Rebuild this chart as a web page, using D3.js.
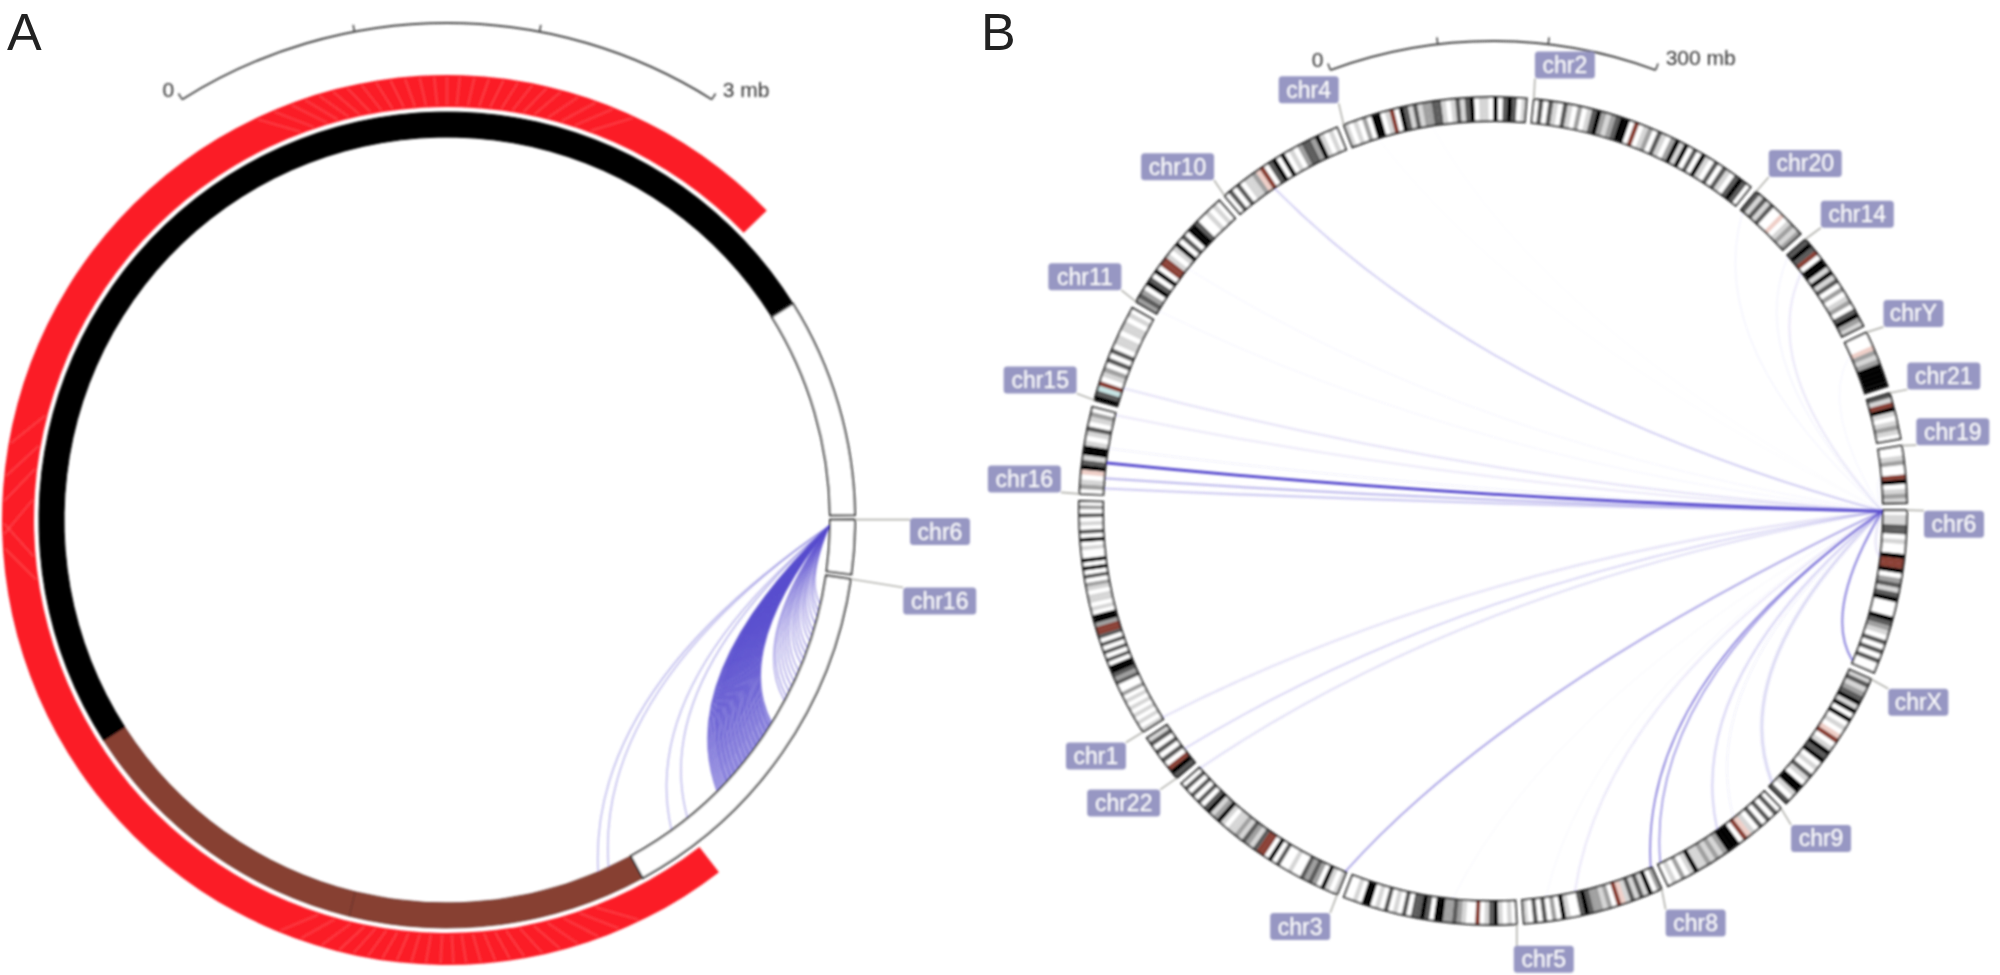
<!DOCTYPE html>
<html><head><meta charset="utf-8">
<script src="https://cdn.jsdelivr.net/npm/d3@7"></script>
<style>html,body{margin:0;padding:0;background:#fff}svg{display:block}text{font-family:"Liberation Sans",Arial,sans-serif}</style>
</head><body><svg id="c" width="2000" height="975"></svg>
<script>
// ---------- Panel A values (Mb, circular coordinate clockwise from 12 o'clock) ----------
const circleMbA = 16.77;
const scaleTicksA = [-1.5, -0.5, 0.5, 1.5];
const scaleLabelsA = ["0", "3 mb"];
const coverageA = [6.63, 18.91];
const coverageStreaksA = [15.70,15.80,15.90,15.98,16.06,16.14,16.22,16.30,16.38,16.46,16.54,16.62,16.70,16.77,16.84,16.92,17.00,17.08,17.16,17.24,17.32,17.40,17.50,17.60,17.70,17.82,
  7.30,7.42,7.54,7.66,7.76,7.86,7.96,8.04,8.12,8.20,8.28,8.35,8.42,8.50,8.58,8.66,8.74,8.82,8.90,8.98,9.08,9.20,9.32,12.3,12.45,12.6,12.8,12.95,13.15];
const segmentsA = [
  {start:11.05,end:19.47,kind:"black"},
  {start:9.03,end:11.05,kind:"brown"},
  {start:7.05,end:9.03,kind:"brown"},
  {start:2.70,end:4.16,kind:"white"},
  {start:4.19,end:4.55,kind:"white"},
  {start:4.58,end:7.05,kind:"white"}];
const linkSourceA = 4.235;
const linksDenseA = [5.68,5.695,5.71,5.72,5.735,5.75,5.76,5.775,5.79,5.80,5.815,5.83,5.84,5.855,5.87,5.88,5.895,5.91,5.92,5.935,5.95,5.96,5.975,5.99,6.00,6.015,6.03,6.04,6.055,6.07,6.08,6.095,6.11,6.12,6.135,6.15,6.16,6.175,6.19,6.20,6.215,6.23,6.245,6.26,6.275,6.29];
const linksLightA = [4.78,4.83,4.87,4.92,4.97,5.01,5.05,5.10,5.14,5.18,5.22,5.27,5.31,5.35,5.39,5.43,5.47,5.50];
const linksFarA = [6.57,6.71,7.22,7.30];
const labelsA = [{name:"chr6",pos:4.19,dx:85,dy:12},{name:"chr16",pos:4.58,dx:89,dy:22}];

// ---------- Panel B values ----------
const circleMbB = 2667;
const startMbB = 42;
const gapMbB = 7.3;
const scaleTicksB = [-150,-50,50,150];
const scaleLabelsB = ["0","300 mb"];
const chromNames = ["chr2","chr20","chr14","chrY","chr21","chr19","chr6","chrX","chr9","chr8","chr5","chr3","chr22","chr1","chr16","chr15","chr11","chr10","chr4"];
const chromLengths = [243.2,63.0,107.3,59.4,48.1,59.1,171.1,155.3,141.2,146.4,180.9,198.0,51.3,249.3,90.4,102.5,135.0,135.5,191.2];
// band stains along each chromosome, clockwise: 0 white, 1-4 increasing grey to black, r brown, p pale pink, c pale cyan
const chromBands = [
 "030310310201342123440r01203102414030410303103430",
 "3131300p01212",
 "343r04414130201203421",
 "000p21244444",
 "31r4101210",
 "001200r40121",
 "0113301004rr4023134000432103030300",
 "1312341404010pr0143401031044103",
 "03030301pr044421212114102010",
 "20413131pr02122343001402030301",
 "01014310r00123224403433030103010440100",
 "101402323001003040rr3123121101421430303030",
 "34r0303031",
 "10101010102003234403030303rr2440101101203040400104030103020",
 "0210p4314410130120",
 "43cr0120303011011010",
 "232043040rr1014030443001010",
 "03030112pr03404010233241010",
 "1010204401r0431312233101313401104034301"];
const linkSourceB = {chr:"chr6",pos:1};
const linkChrB = ["chr16","chr16","chr16","chr16","chr16","chr15","chr11","chr11","chr10","chr4","chr4","chr20","chr14","chr14","chrY","chr19","chr6","chr6","chrX","chr9","chr9","chr8","chr9","chr8","chr8","chr3","chr5","chr1","chr22","chr3"];
const linkPosB = [35,18,7,51,88,21,4,60,47,30,90,3,2,25,15,30,50,168,150,66,44,1,138,88,120,1,68,2,19,197];
const linkAlphaB = [1,.38,.3,.07,.16,.18,.05,.05,.3,.025,.025,.07,.07,.16,.05,.06,.16,.65,.22,.26,.07,.7,.55,.16,.04,.5,.04,.18,.24,.2];
const linkWidthB = [3,2.2,2.2,1.5,1.5,1.8,1,1,1.8,1,1,1,1,1.6,1,1,2,2.2,3,2,1.5,1.8,1.8,1.6,1,1.9,1,2,1.8,1.8];
const labelOffsetB = {chr2:[31,-34],chr20:[49,-28],chr14:[52,-25],chrY:[47,-19],chr21:[54,-17],chr19:[51,-14],chr6:[47,14],chrX:[47,23],chr9:[40,30],chr8:[34,34],chr5:[27,35],chr3:[-37,32],chr22:[-53,25],chr1:[-47,24],chr16:[-55,-15],chr15:[-54,-20],chr11:[-51,-25],chr10:[-47,-29],chr4:[-35,-35]};

// ---------- Drawing ----------
const svg = d3.select("#c");
const defs = svg.append("defs");
defs.append("filter").attr("id","soft").attr("x","-5%").attr("y","-5%").attr("width","110%").attr("height","110%")
  .append("feGaussianBlur").attr("stdDeviation",0.8);
const root = svg.append("g").attr("filter","url(#soft)");
const LINK = "#5b50cf", BOX = "#9797c3", AXIS = "#444";

const spanToRadius = d3.scaleLinear().domain([0,13,24,44,66,112,124,148,161,180]).range([1,.95,.875,.72,.58,.46,.28,.13,.09,0]);
function linkPath(a0,a1,R){
  let d = a1-a0; d = Math.atan2(Math.sin(d),Math.cos(d));
  const span = Math.abs(d)*180/Math.PI;
  const c = d3.pointRadial(a0+.75*d, R*spanToRadius(span));
  const p0 = d3.pointRadial(a0,R), p1 = d3.pointRadial(a1,R);
  const path = d3.path(); path.moveTo(p0[0],p0[1]); path.quadraticCurveTo(c[0],c[1],p1[0],p1[1]);
  return path.toString();
}
function drawScale(g,scale,ticks,labels,r,lab0,lab1){
  const ar = d3.arc().innerRadius(r).outerRadius(r).startAngle(scale(ticks[0])).endAngle(scale(ticks[ticks.length-1]));
  g.append("path").attr("d",ar()).attr("fill","none").attr("stroke",AXIS).attr("stroke-width",1.9);
  g.selectAll(null).data(ticks).join("path").attr("d",t=>{
    const a=d3.pointRadial(scale(t),r), b=d3.pointRadial(scale(t),r+7);
    return "M"+a+"L"+b;}).attr("stroke",AXIS).attr("stroke-width",1.6);
  const p0=d3.pointRadial(scale(ticks[0]),r), p1=d3.pointRadial(scale(ticks[ticks.length-1]),r);
  g.append("text").text(labels[0]).attr("x",p0[0]+lab0[0]).attr("y",p0[1]+lab0[1]).attr("text-anchor","end").attr("font-size",21).attr("fill","#333");
  g.append("text").text(labels[1]).attr("x",p1[0]+lab1[0]).attr("y",p1[1]+lab1[1]).attr("font-size",21).attr("fill","#333");
}
function drawLabel(gLead,gBox,anchor,text,dx,dy,fs){
  const w = text.length>=5?73:60, h=27;
  const cx=anchor[0]+dx, cy=anchor[1]+dy;
  const nx=Math.max(cx-w/2,Math.min(cx+w/2,anchor[0])), ny=Math.max(cy-h/2,Math.min(cy+h/2,anchor[1]));
  gLead.append("line").attr("x1",anchor[0]).attr("y1",anchor[1]).attr("x2",nx).attr("y2",ny).attr("stroke","#b5b5b0").attr("stroke-width",1.7);
  gBox.append("rect").attr("x",cx-w/2).attr("y",cy-h/2).attr("width",w).attr("height",h).attr("rx",3.5).attr("fill",BOX);
  gBox.append("text").text(text).attr("x",cx).attr("y",cy+8).attr("text-anchor","middle").attr("font-size",fs).attr("fill","#fff");
}

// Panel A
const A = root.append("g").attr("transform","translate(447,520)");
const angA = d3.scaleLinear().domain([0,circleMbA]).range([0,2*Math.PI]);
const barA = d3.scaleLinear().domain([-1.5,1.5]).range([angA(-1.5),angA(1.5)]);
drawScale(A,barA,scaleTicksA,scaleLabelsA,497,[-8,-2],[11,-2]);
const arcA = d3.arc();
A.append("path").attr("d",arcA({innerRadius:413,outerRadius:445,startAngle:angA(coverageA[0]),endAngle:angA(coverageA[1])})).attr("fill","#fb1d26");
A.selectAll(null).data(coverageStreaksA).join("line").each(function(m){
  const a=angA(m);
  const off=Math.atan2(Math.sin(a),Math.cos(a));
  const off2=Math.atan2(Math.sin(a-Math.PI),Math.cos(a-Math.PI));
  const near=Math.abs(off)<Math.abs(off2)?off:off2;
  const tilt=Math.max(-.04,Math.min(.04,near*0.1));
  const p=d3.pointRadial(a-tilt,415), q=d3.pointRadial(a+tilt,443);
  d3.select(this).attr("x1",p[0]).attr("y1",p[1]).attr("x2",q[0]).attr("y2",q[1]);
}).attr("stroke","#ff5a5f").attr("stroke-width",2.4).attr("opacity",.45);
const segStyle={black:["#000","#000",1],brown:["#873f33","#5e2c24",.8],white:["#fff","#333",2]};
A.selectAll(null).data(segmentsA).join("path")
  .attr("d",d=>arcA({innerRadius:383,outerRadius:408,startAngle:angA(d.start),endAngle:angA(d.end)}))
  .attr("fill",d=>segStyle[d.kind][0]).attr("stroke",d=>segStyle[d.kind][1]).attr("stroke-width",d=>segStyle[d.kind][2]);
const drawA=(vals,alpha,w)=>A.selectAll(null).data(vals).join("path")
  .attr("d",m=>linkPath(angA(linkSourceA),angA(m),382)).attr("fill","none").attr("stroke",LINK).attr("stroke-opacity",alpha).attr("stroke-width",w);
drawA(linksFarA,.42,1.4); drawA(linksLightA,.58,1.3); drawA(linksDenseA,.85,1.35);
const leadA=A.append("g"), boxA=A.append("g");
labelsA.forEach(l=>drawLabel(leadA,boxA,d3.pointRadial(angA(l.pos),408),l.name,l.dx,l.dy,23));

// Panel B
const B = root.append("g").attr("transform","translate(1493,511)");
const angB = d3.scaleLinear().domain([0,circleMbB]).range([0,2*Math.PI]);
const barB = d3.scaleLinear().domain([-150,150]).range([angB(-150),angB(150)]);
drawScale(B,barB,scaleTicksB,scaleLabelsB,470,[-7,-3],[10,-5]);
let cursor = startMbB;
const chroms = chromNames.map((name,i)=>{const c={name,start:cursor,len:chromLengths[i],bands:chromBands[i]};cursor+=chromLengths[i]+gapMbB;return c;});
const byName = Object.fromEntries(chroms.map(c=>[c.name,c]));
const bandColor={"0":"#fff","1":"#d6d6d6","2":"#a0a0a0","3":"#5c5c5c","4":"#000",r:"#8a4036",p:"#efcfc8",c:"#c6e4e4"};
const arcB=d3.arc().innerRadius(390).outerRadius(414);
const gBands=B.append("g");
chroms.forEach(c=>{
  const chars=Array.from(c.bands), u=c.len/chars.length;
  gBands.append("g").selectAll("path").data(chars).join("path")
    .attr("d",(s,k)=>arcB({startAngle:angB(c.start+k*u),endAngle:angB(c.start+(k+1)*u)+.0005}))
    .attr("fill",s=>bandColor[s]);
});
B.append("g").selectAll("path").data(chroms).join("path")
  .attr("d",c=>arcB({startAngle:angB(c.start),endAngle:angB(c.start+c.len)}))
  .attr("fill","none").attr("stroke","#222").attr("stroke-width",1.9);
const srcB=angB(byName[linkSourceB.chr].start+linkSourceB.pos);
B.append("g").selectAll("path").data(d3.range(linkChrB.length).sort((a,b)=>linkAlphaB[a]-linkAlphaB[b])).join("path")
  .attr("d",i=>linkPath(srcB,angB(byName[linkChrB[i]].start+linkPosB[i]),389))
  .attr("fill","none").attr("stroke",LINK).attr("stroke-opacity",i=>linkAlphaB[i]).attr("stroke-width",i=>linkWidthB[i]);
const leadB=B.append("g"), boxB=B.append("g");
chroms.forEach(c=>{
  const o=labelOffsetB[c.name];
  drawLabel(leadB,boxB,d3.pointRadial(angB(c.start),414),c.name,o[0],o[1],23);
});

// Panel letters
svg.append("text").text("A").attr("x",7).attr("y",50).attr("font-size",52).attr("fill","#222");
svg.append("text").text("B").attr("x",981).attr("y",50).attr("font-size",52).attr("fill","#222");
</script></body></html>
